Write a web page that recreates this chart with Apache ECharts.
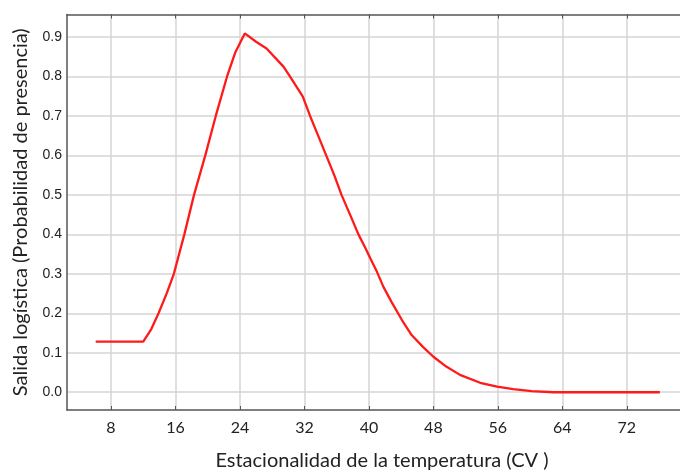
<!DOCTYPE html>
<html>
<head>
<meta charset="utf-8">
<style>
  html, body { margin: 0; padding: 0; background: #fff; }
  #chart { width: 680px; height: 470px; }
</style>
<script src="https://cdn.jsdelivr.net/npm/echarts@6/dist/echarts.min.js"></script>
</head>
<body>
<div id="chart"></div>
<script>
// curve: [CV, probability]
const curveX = [6.1, 12.0, 13.0, 13.9, 14.9, 15.8, 17.1, 18.3, 19.7, 21.0, 22.4, 23.4, 24.6, 26.0, 27.3, 29.4, 30.2, 31.8, 32.7, 33.7, 34.7, 35.7, 36.6, 37.7, 38.7, 39.5, 40.2, 41.0, 41.8, 42.8, 44.1, 45.3, 46.7, 48.0, 49.6, 51.3, 53.8, 55.9, 57.9, 60.2, 62.9, 76.1]
const curveY = [0.128, 0.128, 0.16, 0.2, 0.25, 0.3, 0.4, 0.5, 0.6, 0.7, 0.8, 0.86, 0.909, 0.888, 0.871, 0.825, 0.8, 0.749, 0.7, 0.65, 0.6, 0.55, 0.5, 0.448, 0.4, 0.368, 0.338, 0.305, 0.267, 0.229, 0.183, 0.145, 0.115, 0.09, 0.065, 0.044, 0.024, 0.014, 0.008, 0.003, 0.0, 0.0]
const xTicks = [8, 16, 24, 32, 40, 48, 56, 64, 72]
const yTicks = [0, 0.1, 0.2, 0.3, 0.4, 0.5, 0.6, 0.7, 0.8, 0.9]

const chart = echarts.init(document.getElementById('chart'))

const axisColor = '#555'
const gridColor = '#d4d4d4'
const xMin = 2.54
const xMax = 78.6

const option = {
  animation: false,
  grid: { left: 67, top: 14.5, right: 0, bottom: 60, outerBoundsMode: 'none' },
  xAxis: [
    {
      type: 'value',
      min: xMin,
      max: xMax,
      name: 'Estacionalidad de la temperatura (CV )',
      nameLocation: 'middle',
      nameGap: 41,
      nameTextStyle: { fontFamily: 'Lato', fontSize: 20, color: '#222', padding: [0, 0, 0, 17] },
      axisLine: { show: true, onZero: false, lineStyle: { color: axisColor, width: 1.5 } },
      axisTick: { show: true, inside: true, length: 4, customValues: xTicks, lineStyle: { color: axisColor } },
      axisLabel: { customValues: xTicks, margin: 10, fontFamily: 'Lato', fontSize: 16, color: '#222' },
      splitLine: { show: true, lineStyle: { color: gridColor, width: 1.5 } }
    },
    {
      type: 'value',
      position: 'top',
      min: xMin,
      max: xMax,
      axisLine: { show: true, onZero: false, lineStyle: { color: axisColor, width: 1.5 } },
      axisTick: { show: true, inside: true, length: 4, customValues: xTicks, lineStyle: { color: axisColor } },
      axisLabel: { show: false },
      splitLine: { show: false }
    }
  ],
  yAxis: {
    type: 'value',
    min: -0.045,
    max: 0.957,
    name: 'Salida logística (Probabilidad de presencia)',
    nameLocation: 'middle',
    nameGap: 36,
    nameTextStyle: { fontFamily: 'Lato', fontSize: 20, color: '#222' },
    axisLine: { show: true, onZero: false, lineStyle: { color: axisColor, width: 1.5 } },
    axisTick: { show: false, customValues: yTicks },
    axisLabel: {
      customValues: yTicks,
      margin: 5,
      fontFamily: 'Liberation Sans',
      fontSize: 14,
      color: '#222',
      formatter: v => v.toFixed(1)
    },
    splitLine: { show: true, lineStyle: { color: gridColor, width: 1.5 } }
  },
  series: [
    {
      type: 'line',
      xAxisIndex: 0,
      data: curveX.map((x, i) => [x, curveY[i]]),
      showSymbol: false,
      lineStyle: { color: '#ff1a1a', width: 2.3 }
    }
  ]
}

chart.setOption(option)
</script>
</body>
</html>
